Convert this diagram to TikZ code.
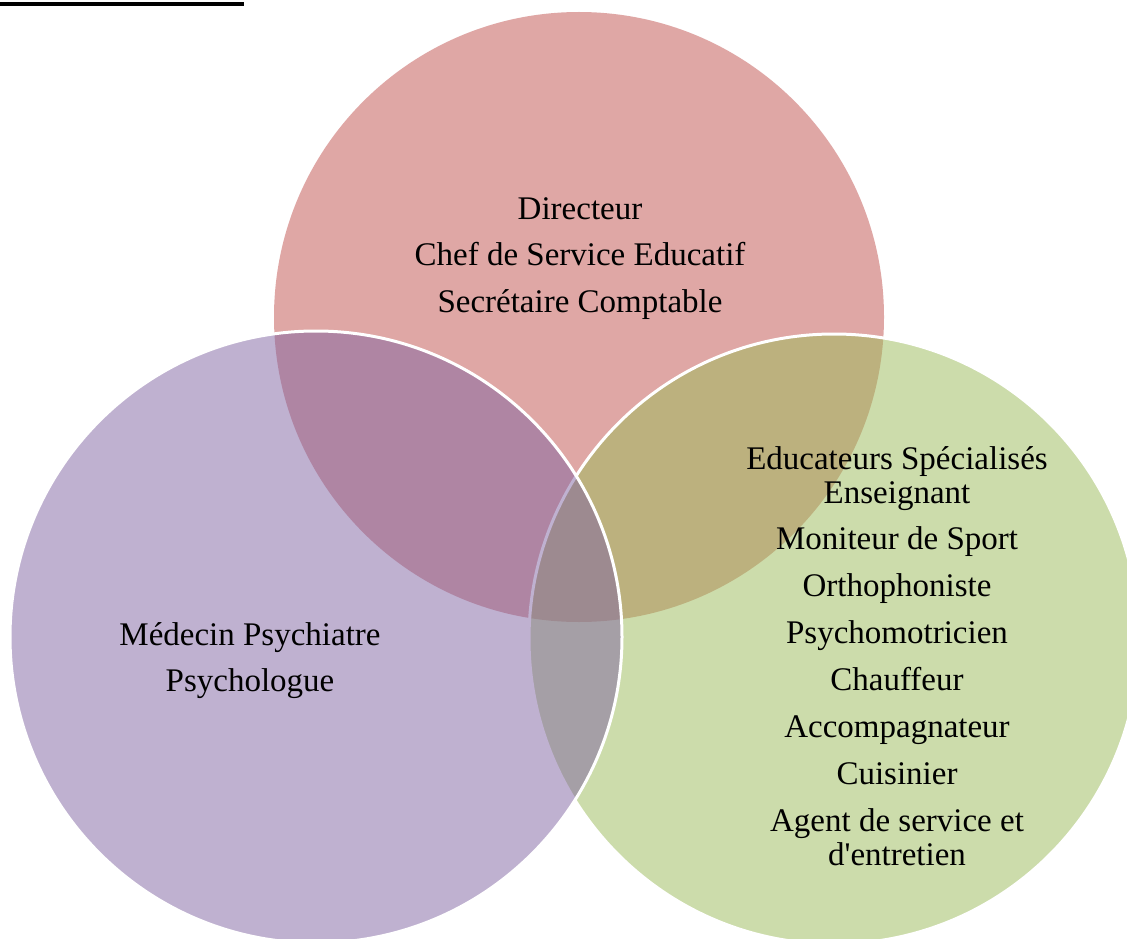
\documentclass[tikz,border=0pt]{standalone}
\usepackage{fontspec}
\setmainfont{Liberation Serif}
\newfontfamily\lblfont{Liberation Serif}
\definecolor{vred}{HTML}{C0504D}
\definecolor{vgreen}{HTML}{9BBB59}
\definecolor{vpurple}{HTML}{8064A2}
\tikzset{
  lbl/.style={anchor=base, inner sep=0pt, font=\lblfont\fontsize{33}{36}\selectfont, text=black},
  ring/.style={line width=3pt, draw=white, fill opacity=0.5, draw opacity=1},
}
\begin{document}
\begin{tikzpicture}[x=1pt,y=-1pt]
\useasboundingbox (0,0) rectangle (1127,939);
\begin{scope}
\clip (0,0) rectangle (1127,939);
\fill[white] (0,0) rectangle (1127,939);
\fill[black] (0,2.5) rectangle (244,6);
\fill[vred, fill opacity=0.5] (579,317) circle[radius=305];
\filldraw[ring, fill=vgreen] (834,639) circle[radius=305];
\filldraw[ring, fill=vpurple] (316,637) circle[radius=306];
\end{scope}
\node[lbl] (d1) at (580,219) {Directeur};
\node[lbl] (d2) at (580,265) {Chef de Service Educatif};
\node[lbl] (d3) at (580,312) {Secrétaire Comptable};
\node[lbl] (m1) at (250,645) {Médecin Psychiatre};
\node[lbl] (m2) at (250,691) {Psychologue};
\node[lbl] (e1) at (897,469) {Educateurs Spécialisés};
\node[lbl] (e2) at (897,503) {Enseignant};
\node[lbl] (e3) at (897,549) {Moniteur de Sport};
\node[lbl] (e4) at (897,596) {Orthophoniste};
\node[lbl] (e5) at (897,643) {Psychomotricien};
\node[lbl] (e6) at (897,690) {Chauffeur};
\node[lbl] (e7) at (897,737) {Accompagnateur};
\node[lbl] (e8) at (897,784) {Cuisinier};
\node[lbl] (e9) at (897,831) {Agent de service et};
\node[lbl] (e10) at (897,865) {d'entretien};
\end{tikzpicture}
\end{document}
